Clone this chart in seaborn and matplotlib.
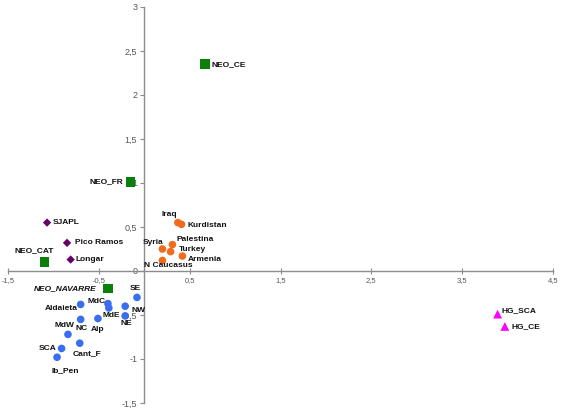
import numpy as np
import pandas as pd
import matplotlib
matplotlib.use("Agg")
import matplotlib.pyplot as plt
from matplotlib.ticker import FuncFormatter
import seaborn as sns

# --- data ---
neo_names = ["NEO_CE", "NEO_FR", "NEO_CAT", "NEO_NAVARRE"]
neo_x = [0.67, -0.15, -1.10, -0.40]
neo_y = [2.35, 1.01, 0.10, -0.20]

basque_names = ["SJAPL", "Pico Ramos", "Longar"]
basque_x = [-1.07, -0.85, -0.81]
basque_y = [0.55, 0.32, 0.13]

near_east_names = ["Iraq", "Kurdistan", "Syria", "Palestina", "Turkey", "Armenia", "N Caucasus"]
near_east_x = [0.37, 0.41, 0.20, 0.31, 0.29, 0.42, 0.20]
near_east_y = [0.55, 0.53, 0.25, 0.30, 0.22, 0.17, 0.12]

europe_names = ["SE", "MdC", "MdE", "Aldaieta", "NW", "NE", "NC", "Alp",
                "MdW", "SCA", "Cant_F", "Ib_Pen"]
europe_x = [-0.08, -0.40, -0.39, -0.70, -0.21, -0.21, -0.70, -0.51,
            -0.84, -0.91, -0.71, -0.96]
europe_y = [-0.30, -0.37, -0.42, -0.38, -0.40, -0.51, -0.55, -0.54,
            -0.72, -0.88, -0.82, -0.98]

hg_names = ["HG_SCA", "HG_CE"]
hg_x = [3.89, 3.97]
hg_y = [-0.49, -0.63]

groups = ["neo", "basque", "near_east", "europe", "hg"]

# label offsets in pixels (dx, dy, ha)
label_pos = {
    "NEO_CE": (6, 0, "left"), "NEO_FR": (-7, 0, "right"), "NEO_CAT": (-10, 12, "center"),
    "NEO_NAVARRE": (-11, 0, "right"),
    "SJAPL": (6, 0, "left"), "Pico Ramos": (8, 0, "left"), "Longar": (5, 0, "left"),
    "Iraq": (-1, 8, "right"), "Kurdistan": (6, -1, "left"), "Syria": (1, 7, "right"),
    "Palestina": (4, 5, "left"), "Turkey": (8, 2, "left"), "Armenia": (5, -3, "left"),
    "N Caucasus": (6, -5, "center"),
    "SE": (-2, 9, "center"), "MdC": (-2, 2, "right"), "MdE": (2, -8, "center"),
    "Aldaieta": (-3, -4, "right"), "NW": (6, -4, "left"), "NE": (1, -8, "center"),
    "NC": (1, -9, "center"), "Alp": (0, -11, "center"), "MdW": (-4, 9, "center"),
    "SCA": (-5, 0, "right"), "Cant_F": (7, -10, "center"), "Ib_Pen": (8, -13, "center"),
    "HG_SCA": (4, 3, "left"), "HG_CE": (7, 0, "left"),
}

df = pd.concat([
    pd.DataFrame({"name": neo_names, "x": neo_x, "y": neo_y, "group": "neo"}),
    pd.DataFrame({"name": basque_names, "x": basque_x, "y": basque_y, "group": "basque"}),
    pd.DataFrame({"name": near_east_names, "x": near_east_x, "y": near_east_y, "group": "near_east"}),
    pd.DataFrame({"name": europe_names, "x": europe_x, "y": europe_y, "group": "europe"}),
    pd.DataFrame({"name": hg_names, "x": hg_x, "y": hg_y, "group": "hg"}),
], ignore_index=True)

sns.set_style("white")
plt.rcParams["font.family"] = ["Liberation Sans", "DejaVu Sans"]

fig = plt.figure(figsize=(5.63, 4.12), dpi=100)
ax = fig.add_axes([8 / 563, 9 / 412, 545 / 563, 396 / 412])

palette = {"neo": "#0a800a", "basque": "#660066", "near_east": "#f26b1d",
           "europe": "#3a6ef0", "hg": "#ff00ff"}
markers = {"neo": "s", "basque": "D", "near_east": "o", "europe": "o", "hg": "^"}
sizes = {"neo": 48, "basque": 18, "near_east": 30, "europe": 30, "hg": 40}

sns.scatterplot(data=df, x="x", y="y", hue="group", style="group", size="group",
                hue_order=groups, palette=palette, markers=markers, sizes=sizes,
                linewidth=0, legend=False, ax=ax, zorder=3)

for _, r in df.iterrows():
    dx, dy, ha = label_pos[r["name"]]
    ax.annotate(r["name"], (r["x"], r["y"]), xytext=(dx, dy), textcoords="offset pixels",
                ha=ha, va="center", fontsize=6, fontweight="bold",
                fontstyle="italic" if r["name"] == "NEO_NAVARRE" else "normal",
                color="#111111", zorder=4)

ax.set_xlim(-1.5, 4.5)
ax.set_ylim(-1.5, 3)
ax.set_xticks(np.arange(-1.5, 4.6, 1))
ax.set_yticks(np.arange(-1.5, 3.01, 0.5))
fmt = FuncFormatter(lambda v, p: ("%g" % round(v, 2)).replace(".", ","))
ax.xaxis.set_major_formatter(fmt)
ax.yaxis.set_major_formatter(fmt)

for s in ["top", "right"]:
    ax.spines[s].set_visible(False)
ax.spines["left"].set_position(("data", 0))
ax.spines["bottom"].set_position(("data", 0))
for s in ["left", "bottom"]:
    ax.spines[s].set_color("#8c8c8c")
    ax.spines[s].set_linewidth(1)

ax.tick_params(axis="x", direction="inout", length=4, width=0.8, color="#8c8c8c",
               labelsize=5.5, labelcolor="#555555", pad=2, bottom=True)
ax.tick_params(axis="y", direction="out", length=3, width=0.8, color="#8c8c8c",
               labelsize=6.5, labelcolor="#555555", pad=2, left=True)
ax.set_xlabel("")
ax.set_ylabel("")
ax.patch.set_alpha(0)

fig.savefig("out.png", dpi=100)
